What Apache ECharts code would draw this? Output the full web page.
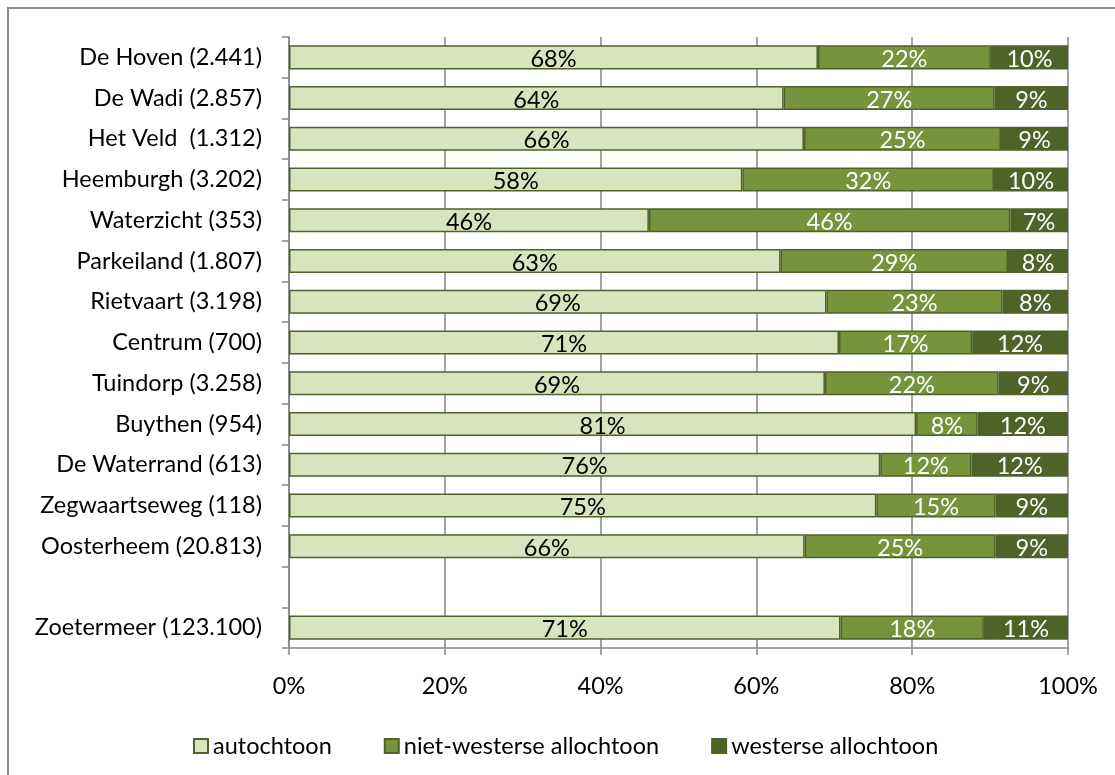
<!DOCTYPE html>
<html>
<head>
<meta charset="utf-8">
<script src="https://cdn.jsdelivr.net/npm/echarts@6/dist/echarts.min.js"></script>
<style>
  html, body { margin: 0; padding: 0; background: #ffffff; }
  #chart { width: 1115px; height: 775px; }
</style>
</head>
<body>
<div id="chart"></div>
<script>
// Wijken met aantal inwoners; lege regel scheidt de wijken van het totaal
const categories = [
  'De Hoven (2.441)', 'De Wadi (2.857)', 'Het Veld  (1.312)', 'Heemburgh (3.202)',
  'Waterzicht (353)', 'Parkeiland (1.807)', 'Rietvaart (3.198)', 'Centrum (700)',
  'Tuindorp (3.258)', 'Buythen (954)', 'De Waterrand (613)', 'Zegwaartseweg (118)',
  'Oosterheem (20.813)', '', 'Zoetermeer (123.100)'
];

// Aandeel per herkomstgroep (%)
const autochtoon = [67.9, 63.5, 66.1, 58.2, 46.2, 63.1, 69.0, 70.6, 68.8, 80.5, 75.9, 75.4, 66.2, null, 70.8];
const nietWesters = [22.2, 27.1, 25.3, 32.3, 46.4, 29.2, 22.6, 17.1, 22.3, 7.9, 11.7, 15.3, 24.5, null, 18.4];
const westers = [9.9, 9.4, 8.6, 9.5, 7.4, 7.7, 8.4, 12.3, 8.9, 11.6, 12.4, 9.3, 9.3, null, 10.8];

const seriesNames = ['autochtoon', 'niet-westerse allochtoon', 'westerse allochtoon'];
const xTicks = [0, 20, 40, 60, 80, 100];

const FONT = 'Lato';
const FONT_SIZE = 23.5;
const GRAY = '#868686';
const DARK = '#4f6228';

function barSeries(name, values, fill, border, textColor) {
  return {
    name: name,
    type: 'bar',
    stack: 'totaal',
    barCategoryGap: '41%',
    data: values,
    itemStyle: { color: fill, borderColor: border, borderWidth: 1.5 },
    label: {
      show: true,
      position: 'inside',
      color: textColor,
      fontFamily: FONT,
      fontSize: FONT_SIZE,
      offset: [0, 2],
      formatter: p => (p.value == null ? '' : Math.round(p.value) + '%')
    },
    emphasis: { disabled: true }
  };
}

const chart = echarts.init(document.getElementById('chart'), null, { renderer: 'canvas' });
chart.setOption({
  animation: false,
  backgroundColor: '#ffffff',
  graphic: [{
    type: 'rect',
    shape: { x: 8, y: 8, width: 1300, height: 900 },
    style: { fill: 'none', stroke: '#8c8c8c', lineWidth: 2 },
    silent: true,
    z: -1
  }],
  grid: { left: 289, right: 47, top: 37, bottom: 127 },
  xAxis: {
    type: 'value',
    min: xTicks[0],
    max: xTicks[xTicks.length - 1],
    interval: xTicks[1] - xTicks[0],
    axisLine: { show: true, lineStyle: { color: GRAY, width: 1.5 } },
    axisTick: { show: true, length: 7, lineStyle: { color: GRAY, width: 1.5 } },
    splitLine: { show: true, lineStyle: { color: GRAY, width: 1.5 } },
    axisLabel: {
      margin: 26,
      color: '#000000',
      fontFamily: FONT,
      fontSize: FONT_SIZE,
      formatter: v => v + '%'
    }
  },
  yAxis: {
    type: 'category',
    data: categories,
    inverse: true,
    axisLine: { show: true, lineStyle: { color: GRAY, width: 1.5 } },
    axisTick: { show: true, length: 7, interval: 0, lineStyle: { color: GRAY, width: 1.5 } },
    axisLabel: {
      interval: 0,
      margin: 27,
      color: '#000000',
      fontFamily: FONT,
      fontSize: FONT_SIZE
    }
  },
  legend: {
    data: seriesNames,
    left: 188,
    top: 729,
    itemWidth: 14,
    itemHeight: 14,
    itemGap: 52,
    icon: 'rect',
    textStyle: { color: '#000000', fontFamily: FONT, fontSize: FONT_SIZE },
    selectedMode: false
  },
  series: [
    barSeries(seriesNames[0], autochtoon, '#d7e4bd', DARK, '#000000'),
    barSeries(seriesNames[1], nietWesters, '#77933c', DARK, '#ffffff'),
    barSeries(seriesNames[2], westers, '#4f6228', '#4f6228', '#ffffff')
  ]
});
</script>
</body>
</html>
